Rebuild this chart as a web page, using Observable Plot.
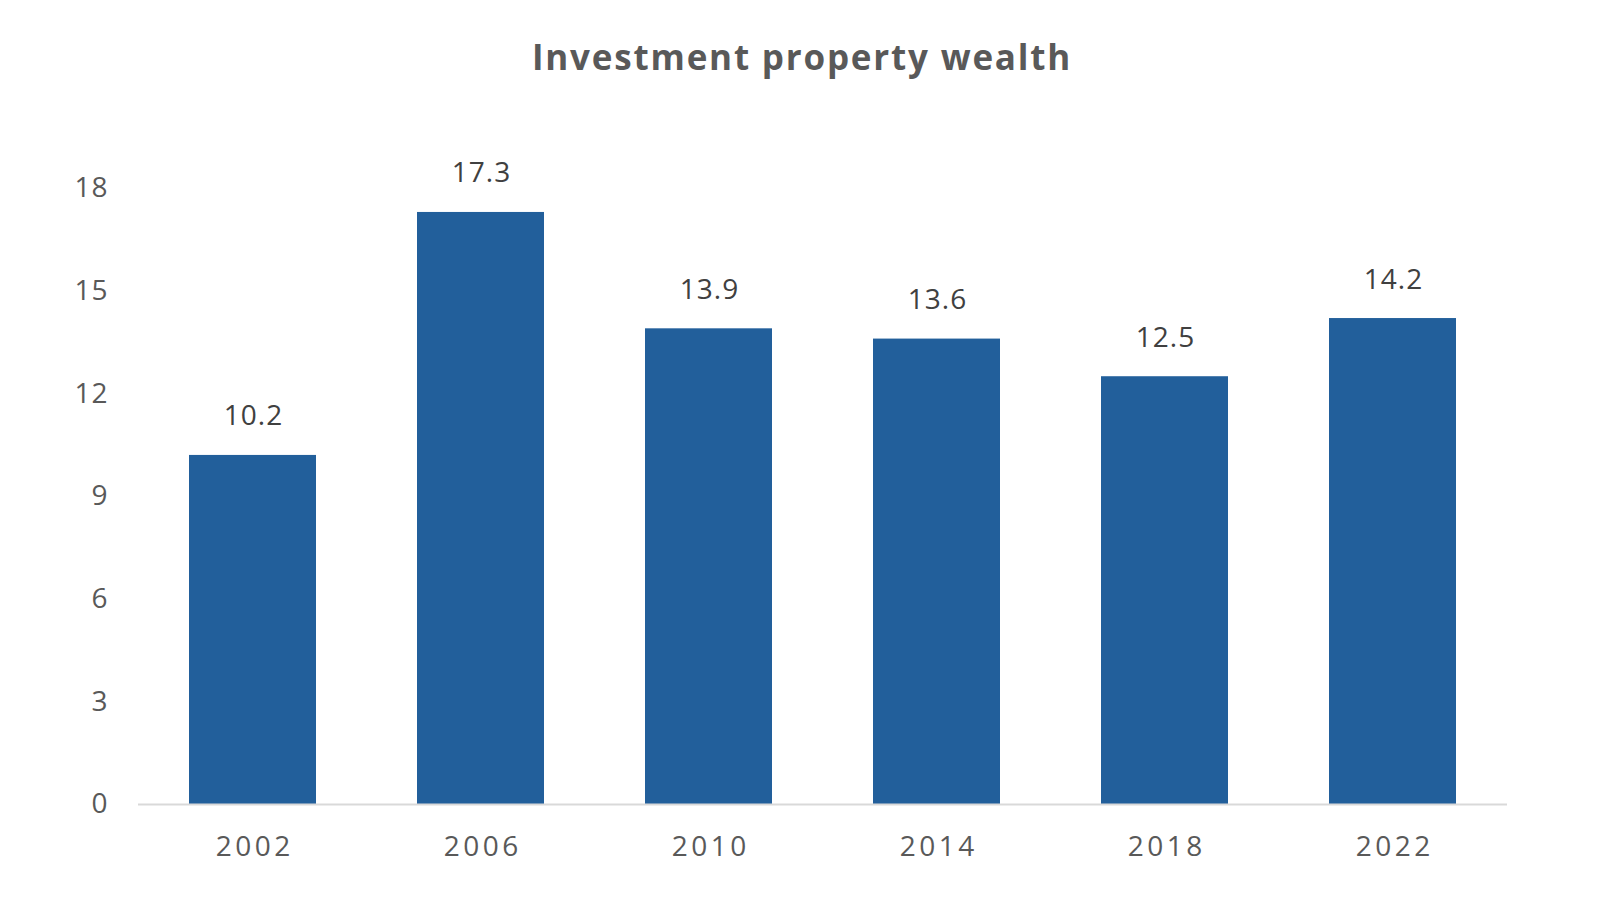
<!DOCTYPE html>
<html>
<head>
<meta charset="utf-8">
<script src="https://cdn.jsdelivr.net/npm/d3@7"></script>
<script src="https://cdn.jsdelivr.net/npm/@observablehq/plot@0.6"></script>
<style>
  body { margin: 0; background: #fff; }
  #wrap { position: relative; width: 1604px; height: 902px; }
  #title { position: absolute; left: 0; top: 33px; width: 1604px; text-align: center;
    font-family: "Open Sans", sans-serif; font-weight: 700; font-size: 35px; letter-spacing: 1.8px; color: #595959; }
  g[aria-label="x-axis tick label"] text { letter-spacing: 3.5px; }
  g[aria-label="y-axis tick label"] text { letter-spacing: 1px; }
  g[aria-label="text"] text { letter-spacing: 1px; }
</style>
</head>
<body>
<div id="wrap">
  <div id="title">Investment property wealth</div>
  <div id="chart"></div>
</div>
<script>
const years = ["2002", "2006", "2010", "2014", "2018", "2022"];
const values = [10.2, 17.3, 13.9, 13.6, 12.5, 14.2];
const yTicks = [0, 3, 6, 9, 12, 15, 18];

const data = years.map((y, i) => ({year: y, value: values[i]}));

const chart = Plot.plot({
  width: 1604,
  height: 902,
  marginTop: 188,
  marginBottom: 98,
  marginLeft: 138,
  marginRight: 97,
  style: {fontFamily: "'Open Sans', sans-serif", background: "#fff"},
  x: {domain: years, paddingInner: 0.444, paddingOuter: 0.223, label: null},
  y: {domain: [0, 18], label: null},
  marks: [
    Plot.barY(data, {x: "year", y: "value", fill: "#225f9b"}),
    Plot.ruleY([0], {stroke: "#d9d9d9", strokeWidth: 2}),
    Plot.text(data, {x: "year", y: "value", text: d => d.value.toFixed(1), dy: -39, dx: 0.5,
      fill: "#404040", fontSize: 28, lineAnchor: "middle"}),
    Plot.axisY({ticks: yTicks, tickSize: 0, tickPadding: 30, fontSize: 28, color: "#595959", label: null}),
    Plot.axisX({tickSize: 0, tickPadding: 32, dx: 1.75, fontSize: 28, color: "#595959", label: null})
  ]
});
document.getElementById("chart").appendChild(chart);
</script>
</body>
</html>
